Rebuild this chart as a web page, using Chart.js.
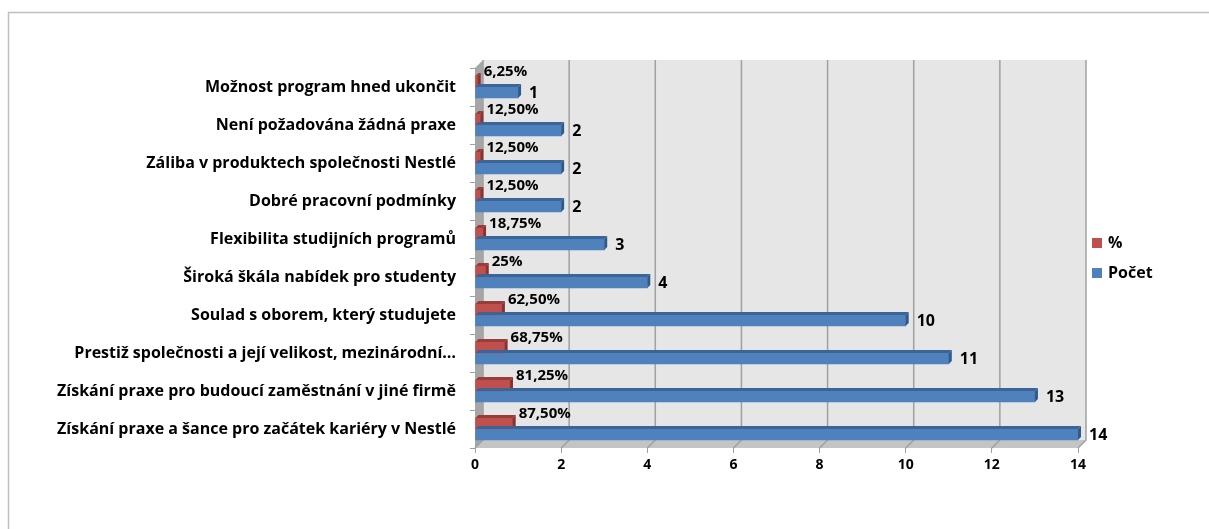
<!DOCTYPE html>
<html><head><meta charset="utf-8">
<script src="https://cdn.jsdelivr.net/npm/chart.js@4.4.0/dist/chart.umd.min.js"></script>
<style>html,body{margin:0;padding:0;background:#fff;overflow:hidden}#wrap{position:relative;width:1209px;height:529px}</style>
</head><body><div id="wrap"><canvas id="c" width="1209" height="529"></canvas></div>
<script>
const categories = [
  'Možnost program hned ukončit',
  'Není požadována žádná praxe',
  'Záliba v produktech společnosti Nestlé',
  'Dobré pracovní podmínky',
  'Flexibilita studijních programů',
  'Široká škála nabídek pro studenty',
  'Soulad s oborem, který studujete',
  'Prestiž společnosti a její velikost, mezinárodní…',
  'Získání praxe pro budoucí zaměstnání v jiné firmě',
  'Získání praxe a šance pro začátek kariéry v Nestlé'
];
const percentValues = [0.0625, 0.125, 0.125, 0.125, 0.1875, 0.25, 0.625, 0.6875, 0.8125, 0.875];
const countValues = [1, 2, 2, 2, 3, 4, 10, 11, 13, 14];
const xTickValues = [0, 2, 4, 6, 8, 10, 12, 14];
const seriesNames = ['%', 'Počet'];

const RED = '#C0504D', BLUE = '#4F81BD';
const faceColors = [{top:'#9A3C39', side:'#8A3230'}, {top:'#3A6596', side:'#2F5A8A'}];
const D = 8; // wall depth
const d = 3; // bar depth
const FONT = '"Open Sans"';
const W = 'bold';

function pctLabel(v){
  const p = Math.round(v*10000)/100;
  return (Number.isInteger(p) ? String(p) : p.toFixed(2)).replace('.', ',') + '%';
}

const framePlugin = {
  id: 'frame3d',
  beforeDraw(chart){
    const ctx = chart.ctx;
    ctx.save();
    ctx.fillStyle = '#fff';
    ctx.fillRect(0,0,chart.width,chart.height);
    ctx.strokeStyle = '#BFBFBF';
    ctx.lineWidth = 1.5;
    ctx.beginPath();
    ctx.moveTo(8.5, chart.height+2);
    ctx.lineTo(8.5, 12.5);
    ctx.lineTo(chart.width+2, 12.5);
    ctx.stroke();
    ctx.restore();
  },
  beforeDatasetsDraw(chart){
    const {ctx, chartArea:a, scales:{x}} = chart;
    ctx.save();
    ctx.fillStyle = '#E6E6E6';
    ctx.fillRect(a.left+D, a.top-D, a.right-a.left, a.bottom-a.top);
    ctx.fillStyle = '#A6A6A6';
    ctx.beginPath();
    ctx.moveTo(a.left, a.top); ctx.lineTo(a.left+D, a.top-D);
    ctx.lineTo(a.left+D, a.bottom-D); ctx.lineTo(a.left, a.bottom);
    ctx.closePath(); ctx.fill();
    ctx.fillStyle = '#C4C4C4';
    ctx.beginPath();
    ctx.moveTo(a.left, a.bottom); ctx.lineTo(a.left+D, a.bottom-D);
    ctx.lineTo(a.right+D, a.bottom-D); ctx.lineTo(a.right, a.bottom);
    ctx.closePath(); ctx.fill();
    ctx.strokeStyle = '#A0A0A0';
    ctx.lineWidth = 1.5;
    xTickValues.forEach(v => {
      const px = x.getPixelForValue(v);
      ctx.beginPath();
      ctx.moveTo(px+D, a.top-D); ctx.lineTo(px+D, a.bottom-D);
      ctx.lineTo(px, a.bottom);
      ctx.stroke();
    });
    ctx.restore();
  },
  afterDatasetsDraw(chart){
    const ctx = chart.ctx;
    ctx.save();
    [0,1].forEach(di => {
      const meta = chart.getDatasetMeta(di);
      const fc = faceColors[di];
      meta.data.forEach(bar => {
        const x0 = bar.base, x1 = bar.x, yT = bar.y - bar.height/2, yB = bar.y + bar.height/2;
        ctx.fillStyle = fc.top;
        ctx.beginPath();
        ctx.moveTo(x0, yT); ctx.lineTo(x1, yT); ctx.lineTo(x1+d, yT-d); ctx.lineTo(x0+d, yT-d);
        ctx.closePath(); ctx.fill();
        ctx.fillStyle = fc.side;
        ctx.beginPath();
        ctx.moveTo(x1, yT); ctx.lineTo(x1+d, yT-d); ctx.lineTo(x1+d, yB-d); ctx.lineTo(x1, yB);
        ctx.closePath(); ctx.fill();
      });
    });
    ctx.fillStyle = '#000';
    ctx.textBaseline = 'middle';
    ctx.textAlign = 'left';
    const m0 = chart.getDatasetMeta(0), m1 = chart.getDatasetMeta(1);
    ctx.font = W + ' 15px ' + FONT;
    m0.data.forEach((bar, i) => {
      ctx.fillText(pctLabel(percentValues[i]), bar.x + 6, bar.y - 10);
    });
    ctx.font = W + ' 16px ' + FONT;
    m1.data.forEach((bar, i) => {
      ctx.fillText(String(countValues[i]), bar.x + 11, bar.y + 1);
    });
    const a = chart.chartArea;
    const items = [{t:seriesNames[0], c:RED, y:243}, {t:seriesNames[1], c:BLUE, y:273}];
    ctx.font = W + ' 16px ' + FONT;
    items.forEach(it => {
      ctx.fillStyle = it.c;
      ctx.fillRect(a.right + 14, it.y - 5, 10, 10);
      ctx.fillStyle = '#000';
      ctx.fillText(it.t, a.right + 30, it.y);
    });
    ctx.restore();
  }
};

function build(){
  Chart.defaults.font.family = FONT;
  new Chart(document.getElementById('c'), {
    type: 'bar',
    data: {
      labels: categories,
      datasets: [
        {label: seriesNames[0], data: percentValues, backgroundColor: RED, borderWidth: 0},
        {label: seriesNames[1], data: countValues, backgroundColor: BLUE, borderWidth: 0}
      ]
    },
    options: {
      indexAxis: 'y',
      responsive: false,
      animation: false,
      devicePixelRatio: 1,
      barThickness: 11,
      layout: {padding: {left: 0, right: 131, top: 68, bottom: 0}},
      plugins: {legend: {display: false}, tooltip: {enabled: false}},
      scales: {
        x: {
          min: 0, max: 14,
          afterFit(s){ s.height = 81; },
          afterBuildTicks(s){ s.ticks = xTickValues.map(v => ({value: v})); },
          grid: {drawOnChartArea: false, drawTicks: true, tickLength: 5, color: '#A0A0A0'},
          border: {display: false},
          ticks: {color: '#000', font: {size: 14, weight: W}, padding: 4}
        },
        y: {
          afterFit(s){ s.width = 475; },
          grid: {drawOnChartArea: false, drawTicks: true, tickLength: 5, color: '#A0A0A0'},
          border: {display: false},
          ticks: {color: '#000', font: {size: 16, weight: W}, padding: 14}
        }
      }
    },
    plugins: [framePlugin]
  });
}
if (document.fonts && document.fonts.load) {
  Promise.all([document.fonts.load(W + ' 16px ' + FONT)]).then(build, build);
} else build();
</script>
</body></html>
